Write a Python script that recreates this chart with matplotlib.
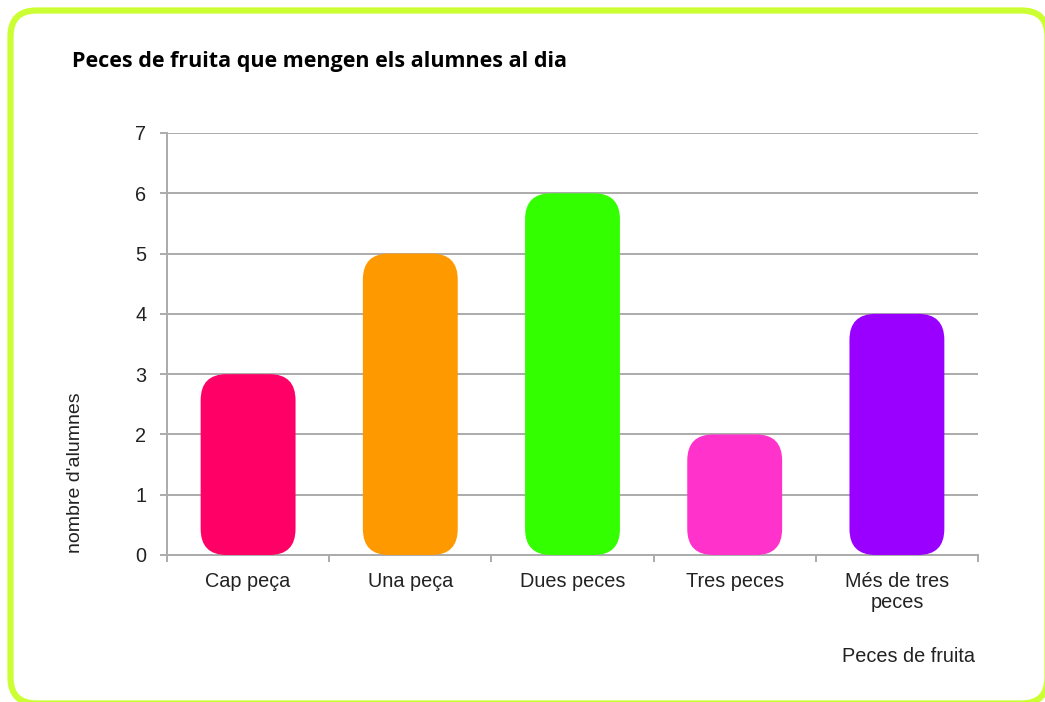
import matplotlib
matplotlib.use('Agg')
import matplotlib.pyplot as plt
from matplotlib.patches import FancyBboxPatch
import numpy as np

# data
categories = ['Cap peça', 'Una peça', 'Dues peces', 'Tres peces', 'Més de tres\npeces']
students = [3, 5, 6, 2, 4]
bar_colors = ['#FF0066', '#FF9900', '#33FF00', '#FF33CC', '#9900FF']

W, H = 1045, 702
fig = plt.figure(figsize=(W / 100, H / 100), dpi=100)
plt.rcParams['font.family'] = ['Liberation Sans', 'DejaVu Sans']

# rounded green frame, drawn in pixel coords (right/bottom edges run off the image)
bg = fig.add_axes([0, 0, 1, 1], zorder=-1)
bg.set_xlim(0, W)
bg.set_ylim(H, 0)
bg.axis('off')
bg.add_patch(FancyBboxPatch((10.5, 10.5), 1037, 693,
                            boxstyle='round,pad=0,rounding_size=26',
                            fc='white', ec='#CCFF33', lw=4.5))

# main axes
left, right, top, bottom = 167, 978, 133, 555
ax = fig.add_axes([left / W, 1 - bottom / H, (right - left) / W, (bottom - top) / H])
ax.patch.set_alpha(0)
ax.set_xlim(0, len(categories))
ax.set_ylim(0, 7)

grid_c = '#ababab'
ax.set_yticks(range(0, 8))
ax.yaxis.grid(True, color=grid_c, lw=1.4)
ax.set_axisbelow(True)
for s in ['top', 'right']:
    ax.spines[s].set_visible(False)
for s in ['left', 'bottom']:
    ax.spines[s].set_color(grid_c)
    ax.spines[s].set_linewidth(1.4)

x = np.arange(len(categories)) + 0.5
ax.set_xticks(x)
ax.set_xticklabels(categories, fontsize=14.3, color='#222222', linespacing=1.15)
ax.set_xticks(np.arange(len(categories) + 1), minor=True)
ax.tick_params(axis='x', which='major', length=0, pad=12)
ax.tick_params(axis='x', which='minor', length=5, width=1.4, color=grid_c)
ax.tick_params(axis='y', length=5, width=1.4, color=grid_c, pad=10,
               labelsize=14.3, labelcolor='#222222')

# rounded bars
bar_w = 0.585
px_x = (right - left) / len(categories)   # pixels per x unit
px_y = (bottom - top) / 7                 # pixels per y unit
radius_px = 26
aspect = px_x / px_y
for xi, v, c in zip(x, students, bar_colors):
    ax.add_patch(FancyBboxPatch((xi - bar_w / 2, 0), bar_w, v,
                                boxstyle='round,pad=0,rounding_size=%f' % (radius_px / px_x),
                                mutation_aspect=aspect, fc=c, ec='none', zorder=3))

fig.text(72 / W, 1 - 62 / H, 'Peces de fruita que mengen els alumnes al dia',
         fontsize=15.5, fontweight='bold', family=['Open Sans', 'DejaVu Sans'],
         ha='left', va='center', color='black')
fig.text(75 / W, 1 - 473 / H, "nombre d'alumnes", rotation=90, fontsize=14,
         ha='center', va='center', color='#222222')
fig.text(975 / W, 1 - 657 / H, 'Peces de fruita', fontsize=14.3,
         ha='right', va='center', color='#222222')

fig.savefig('out.png', dpi=100)
